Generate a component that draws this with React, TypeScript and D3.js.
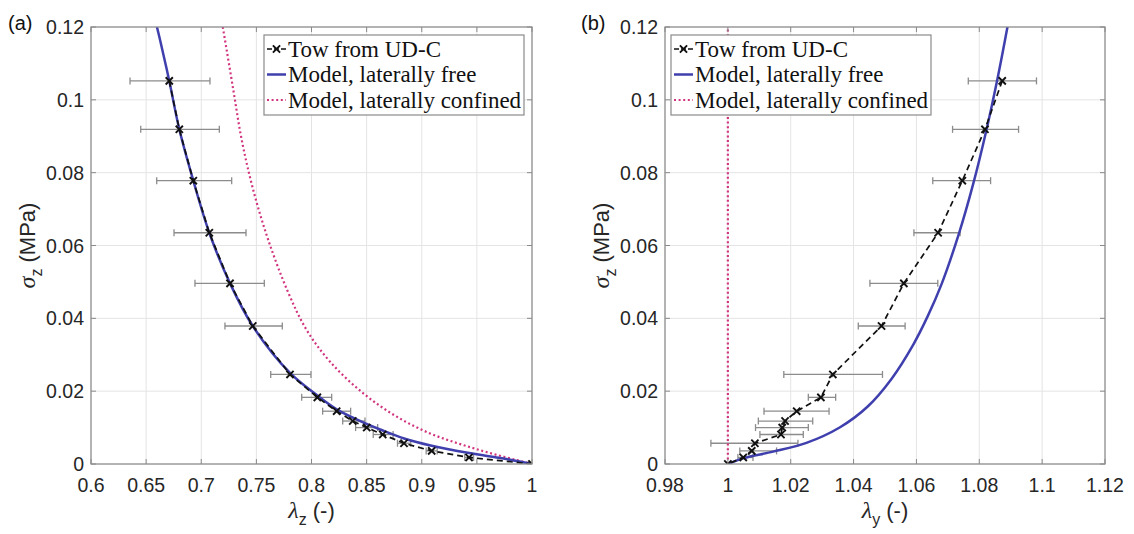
import React from 'react';
import * as d3 from 'd3';

// ---------- data ----------
const sigmaZ = [0.1052, 0.0919, 0.0778, 0.0635, 0.0496, 0.0379, 0.0246, 0.0183, 0.0145, 0.0118, 0.0100, 0.0081, 0.0057, 0.0036, 0.0018, 0];

const lambdaZ = [0.671, 0.6801, 0.6928, 0.7073, 0.7261, 0.7467, 0.7805, 0.8053, 0.8228, 0.8374, 0.8501, 0.8646, 0.8839, 0.909, 0.9429, 1.0];
const lambdaZLow = [0.6354, 0.6451, 0.6596, 0.6753, 0.6943, 0.7215, 0.763, 0.7911, 0.8101, 0.8283, 0.840, 0.856, 0.878, 0.904, 0.939, 1.0];
const lambdaZHigh = [0.7079, 0.7164, 0.7276, 0.7406, 0.7572, 0.7735, 0.7995, 0.8183, 0.8355, 0.8485, 0.860, 0.874, 0.890, 0.914, 0.947, 1.0];

const lambdaY = [1.0873, 1.0818, 1.0746, 1.0669, 1.056, 1.0489, 1.0334, 1.0296, 1.0219, 1.0182, 1.0173, 1.0169, 1.0086, 1.0076, 1.0049, 1.0];
const lambdaYLow = [1.0765, 1.0715, 1.0652, 1.0592, 1.0452, 1.0415, 1.0178, 1.0256, 1.0115, 1.0097, 1.0088, 1.0102, 0.9946, 1.0038, 1.0032, 1.0];
const lambdaYHigh = [1.0982, 1.0925, 1.0836, 1.0739, 1.0668, 1.0564, 1.0492, 1.0343, 1.0322, 1.027, 1.0256, 1.024, 1.0223, 1.0155, 1.008, 1.0];

const freeZLambda = [0.6598, 0.6626, 0.671, 0.6801, 0.6928, 0.7073, 0.7261, 0.7467, 0.7805, 0.8053, 0.8228, 0.85, 0.8646, 0.884, 0.909, 0.943, 0.974, 1.0];
const freeZSigma = [0.12, 0.1165, 0.1052, 0.0919, 0.0778, 0.0635, 0.0496, 0.0379, 0.025, 0.0188, 0.015, 0.011, 0.0092, 0.007, 0.005, 0.003, 0.0015, 0];

const confZLambda = [0.7195, 0.7215, 0.7291, 0.7367, 0.7472, 0.7608, 0.779, 0.7956, 0.8168, 0.847, 0.8773, 0.9075, 0.9377, 0.968, 1.0];
const confZSigma = [0.12, 0.1165, 0.1027, 0.089, 0.0752, 0.0615, 0.047, 0.0368, 0.0281, 0.0194, 0.013, 0.0084, 0.0052, 0.0025, 0];

const freeYLambda = [1.0, 1.005, 1.0144, 1.025, 1.0357, 1.0445, 1.052, 1.059, 1.0636, 1.068, 1.0735, 1.078, 1.082, 1.086, 1.0895];
const freeYSigma = [0, 0.0016, 0.0034, 0.0058, 0.0101, 0.0158, 0.0233, 0.0328, 0.0406, 0.0494, 0.0632, 0.0767, 0.0907, 0.1067, 0.1225];

const confYLambda = [1.0, 1.0];
const confYSigma = [0, 0.12];

const yTicks = [0, 0.02, 0.04, 0.06, 0.08, 0.1, 0.12];
const yTickLabels = ['0', '0.02', '0.04', '0.06', '0.08', '0.1', '0.12'];
const xTicksA = [0.6, 0.65, 0.7, 0.75, 0.8, 0.85, 0.9, 0.95, 1.0];
const xTickLabelsA = ['0.6', '0.65', '0.7', '0.75', '0.8', '0.85', '0.9', '0.95', '1'];
const xTicksB = [0.98, 1.0, 1.02, 1.04, 1.06, 1.08, 1.1, 1.12];
const xTickLabelsB = ['0.98', '1', '1.02', '1.04', '1.06', '1.08', '1.1', '1.12'];
const legendLabels = ['Tow from UD-C', 'Model, laterally free', 'Model, laterally confined'];

// ---------- style ----------
const BLUE = '#3f3fae';
const MAGENTA = '#d2357f';
const GRID = '#e4e4e4';
const AXIS = '#8a8a8a';
const TEXT = '#262626';
const ERR = '#8c8c8c';
const SANS = "'Liberation Sans', Arial, sans-serif";
const SERIF = "'Liberation Serif', 'Times New Roman', serif";

type PanelProps = {
  id: string;
  x0: number; x1: number; y0: number; y1: number;
  xDomain: [number, number];
  xTicks: number[]; xTickLabels: string[];
  lam: number[]; lamLow: number[]; lamHigh: number[];
  freeL: number[]; freeS: number[];
  confL: number[]; confS: number[];
  tag: string; tagX: number;
  sub: string;
  legendX: number;
};

function Panel(p: PanelProps) {
  const x = d3.scaleLinear().domain(p.xDomain).range([p.x0, p.x1]);
  const y = d3.scaleLinear().domain([0, 0.12]).range([p.y1, p.y0]);
  const lin = d3.line<[number, number]>().x(d => x(d[0])).y(d => y(d[1]));
  const smooth = d3.line<[number, number]>().x(d => x(d[0])).y(d => y(d[1])).curve(d3.curveCatmullRom.alpha(0.5));
  const dataPts: [number, number][] = p.lam.map((l, i) => [l, sigmaZ[i]]);
  const freePts: [number, number][] = p.freeL.map((l, i) => [l, p.freeS[i]]);
  const confPts: [number, number][] = p.confL.map((l, i) => [l, p.confS[i]]);
  const tk = 5;
  const cx = (p.x0 + p.x1) / 2;
  const cy = (p.y0 + p.y1) / 2;
  const ms = 3.6;
  const lgW = 260, lgH = 80, lgY = 35;
  const rowY = [49, 74.5, 100];
  const clipId = 'clip-' + p.id;
  return (
    <g>
      <defs>
        <clipPath id={clipId}>
          <rect x={p.x0} y={p.y0} width={p.x1 - p.x0} height={p.y1 - p.y0} />
        </clipPath>
      </defs>
      {/* grid */}
      {p.xTicks.map((t, i) => (
        <line key={'gx' + i} x1={x(t)} x2={x(t)} y1={p.y0} y2={p.y1} stroke={GRID} strokeWidth={1} />
      ))}
      {yTicks.map((t, i) => (
        <line key={'gy' + i} x1={p.x0} x2={p.x1} y1={y(t)} y2={y(t)} stroke={GRID} strokeWidth={1} />
      ))}
      <g clipPath={`url(#${clipId})`}>
        {/* error bars */}
        {p.lam.map((l, i) => {
          if (p.lamHigh[i] - p.lamLow[i] < 1e-9) return null;
          const yy = y(sigmaZ[i]);
          const a = x(p.lamLow[i]), b = x(p.lamHigh[i]);
          return (
            <g key={'eb' + i} stroke={ERR} strokeWidth={1.3}>
              <line x1={a} x2={b} y1={yy} y2={yy} />
              <line x1={a} x2={a} y1={yy - 3.5} y2={yy + 3.5} />
              <line x1={b} x2={b} y1={yy - 3.5} y2={yy + 3.5} />
            </g>
          );
        })}
        {/* models */}
        <path d={p.confL.length > 2 ? smooth(confPts)! : lin(confPts)!} fill="none" stroke={MAGENTA} strokeWidth={2.2} strokeDasharray="2 2.6" />
        <path d={smooth(freePts)!} fill="none" stroke={BLUE} strokeWidth={2.5} />
        {/* data */}
        <path d={lin(dataPts)!} fill="none" stroke="#111" strokeWidth={1.7} strokeDasharray="6 4" />
        {dataPts.map((d, i) => {
          const px = x(d[0]), py = y(d[1]);
          return (
            <path key={'m' + i} d={`M${px - ms},${py - ms}L${px + ms},${py + ms}M${px - ms},${py + ms}L${px + ms},${py - ms}`} stroke="#111" strokeWidth={1.9} />
          );
        })}
      </g>
      {/* box */}
      <rect x={p.x0} y={p.y0} width={p.x1 - p.x0} height={p.y1 - p.y0} fill="none" stroke={AXIS} strokeWidth={1.2} />
      {/* ticks */}
      {p.xTicks.map((t, i) => (
        <g key={'xt' + i} stroke={AXIS} strokeWidth={1}>
          <line x1={x(t)} x2={x(t)} y1={p.y1} y2={p.y1 - tk} />
          <line x1={x(t)} x2={x(t)} y1={p.y0} y2={p.y0 + tk} />
        </g>
      ))}
      {yTicks.map((t, i) => (
        <g key={'yt' + i} stroke={AXIS} strokeWidth={1}>
          <line x1={p.x0} x2={p.x0 + tk} y1={y(t)} y2={y(t)} />
          <line x1={p.x1} x2={p.x1 - tk} y1={y(t)} y2={y(t)} />
        </g>
      ))}
      {/* tick labels */}
      {p.xTicks.map((t, i) => (
        <text key={'xl' + i} x={x(t)} y={p.y1 + 28} textAnchor="middle" fontFamily={SANS} fontSize={19.5} fill={TEXT}>
          {p.xTickLabels[i]}
        </text>
      ))}
      {yTicks.map((t, i) => (
        <text key={'yl' + i} x={p.x0 - 7} y={y(t)} dy="0.36em" textAnchor="end" fontFamily={SANS} fontSize={19.5} fill={TEXT}>
          {yTickLabels[i]}
        </text>
      ))}
      {/* axis labels */}
      <text x={cx} y={518} textAnchor="middle" fontFamily={SANS} fontSize={22} fill={TEXT}>
        <tspan fontFamily={SERIF} fontStyle="italic" fontSize={24}>λ</tspan>
        <tspan fontSize={16} dy={7}>{p.sub}</tspan>
        <tspan dy={-7}> (-)</tspan>
      </text>
      <text transform={`translate(${p.x0 - 56},${cy}) rotate(-90)`} textAnchor="middle" fontFamily={SANS} fontSize={22} fill={TEXT}>
        <tspan fontFamily={SERIF} fontStyle="italic" fontSize={24}>σ</tspan>
        <tspan fontSize={16} dy={7}>z</tspan>
        <tspan dy={-7}> (MPa)</tspan>
      </text>
      {/* panel tag */}
      <text x={p.tagX} y={30} fontFamily={SANS} fontSize={20} fill="#111">{p.tag}</text>
      {/* legend */}
      <rect x={p.legendX} y={lgY} width={lgW} height={lgH} fill="#fff" stroke={AXIS} strokeWidth={1.2} />
      {legendLabels.map((lab, i) => {
        const ry = rowY[i];
        const lx0 = p.legendX + 3, lx1 = p.legendX + 22;
        const mx = (lx0 + lx1) / 2;
        return (
          <g key={'lg' + i}>
            {i === 0 && (
              <g stroke="#111">
                <line x1={lx0} x2={lx1} y1={ry} y2={ry} strokeWidth={1.7} strokeDasharray="5 2" />
                <path d={`M${mx - ms},${ry - ms}L${mx + ms},${ry + ms}M${mx - ms},${ry + ms}L${mx + ms},${ry - ms}`} strokeWidth={1.9} />
              </g>
            )}
            {i === 1 && <line x1={lx0} x2={lx1} y1={ry} y2={ry} stroke={BLUE} strokeWidth={2.5} />}
            {i === 2 && <line x1={lx0} x2={lx1} y1={ry} y2={ry} stroke={MAGENTA} strokeWidth={2.2} strokeDasharray="2 2.6" />}
            <text x={p.legendX + 24} y={ry + 7.5} fontFamily={SERIF} fontSize={23} fill="#111">{lab}</text>
          </g>
        );
      })}
    </g>
  );
}

export default function App() {
  return (
    <svg width={1134} height={534} viewBox="0 0 1134 534" style={{ position: 'absolute', left: 0, top: 0, background: '#fff' }}>
      <rect x={0} y={0} width={1134} height={534} fill="#fff" />
      <Panel
        id="a" x0={91} x1={532} y0={27} y1={464}
        xDomain={[0.6, 1.0]} xTicks={xTicksA} xTickLabels={xTickLabelsA}
        lam={lambdaZ} lamLow={lambdaZLow} lamHigh={lambdaZHigh}
        freeL={freeZLambda} freeS={freeZSigma}
        confL={confZLambda} confS={confZSigma}
        tag="(a)" tagX={8} sub="z" legendX={264}
      />
      <Panel
        id="b" x0={665} x1={1105} y0={27} y1={464}
        xDomain={[0.98, 1.12]} xTicks={xTicksB} xTickLabels={xTickLabelsB}
        lam={lambdaY} lamLow={lambdaYLow} lamHigh={lambdaYHigh}
        freeL={freeYLambda} freeS={freeYSigma}
        confL={confYLambda} confS={confYSigma}
        tag="(b)" tagX={581} sub="y" legendX={671}
      />
    </svg>
  );
}
